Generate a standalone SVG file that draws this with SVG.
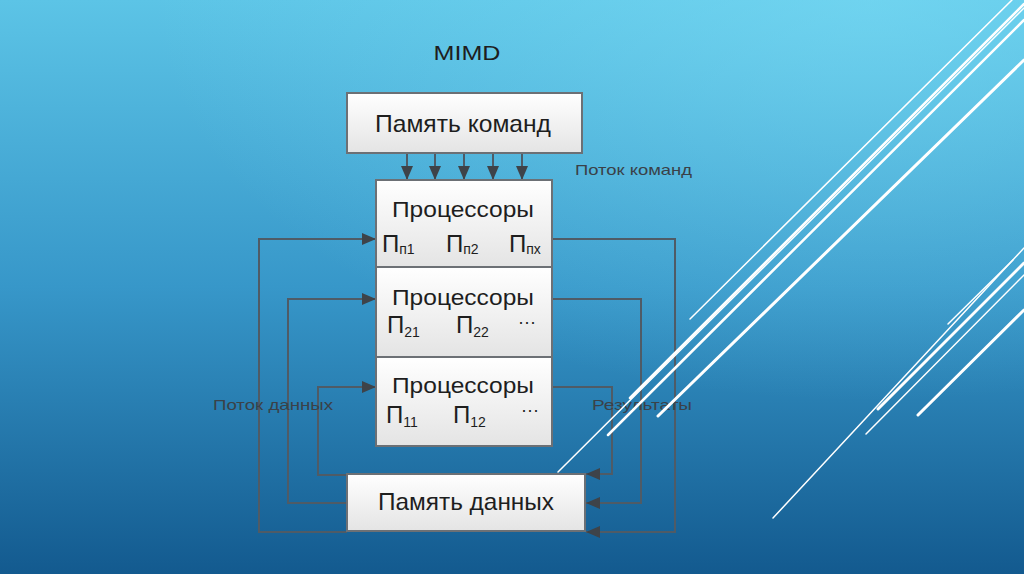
<svg xmlns="http://www.w3.org/2000/svg" width="1024" height="574" viewBox="0 0 1024 574">
  <defs>
    <linearGradient id="bg" x1="0" y1="0" x2="0" y2="1">
      <stop offset="0" stop-color="#5cc4e6"/>
      <stop offset="0.5" stop-color="#3797c9"/>
      <stop offset="1" stop-color="#135a8f"/>
    </linearGradient>
    <radialGradient id="glow" cx="0.85" cy="0" r="0.7">
      <stop offset="0" stop-color="#7fe0f7" stop-opacity="0.55"/>
      <stop offset="1" stop-color="#7fe0f7" stop-opacity="0"/>
    </radialGradient>
    <linearGradient id="boxfill" x1="0" y1="0" x2="0" y2="1">
      <stop offset="0" stop-color="#ffffff"/>
      <stop offset="1" stop-color="#e4e4e4"/>
    </linearGradient>
    <marker id="ah" viewBox="0 0 14 12" refX="14" refY="6" markerWidth="14" markerHeight="12" markerUnits="userSpaceOnUse" orient="auto">
      <path d="M0,0 L14,6 L0,12 Z" fill="#3e4349"/>
    </marker>
    <style>
      .box { fill: url(#boxfill); stroke: #6c7075; stroke-width: 2; }
      .conn { fill: none; stroke: #4f5b66; stroke-width: 2; }
      .t { font-family: "Liberation Sans", Arial, sans-serif; fill: #1e1e1e; }
      .lbl { font-family: "Liberation Sans", Arial, sans-serif; fill: #3a4148; font-size: 15px; }
      .deco { stroke: #ffffff; fill: none; stroke-linecap: round; }
    </style>
  </defs>

  <rect x="0" y="0" width="1024" height="574" fill="url(#bg)"/>
  <rect x="0" y="0" width="1024" height="574" fill="url(#glow)"/>

  <text x="467" y="60" class="t" font-size="21" fill="#2a3036" text-anchor="middle" textLength="67" lengthAdjust="spacingAndGlyphs">MIMD</text>

  <g id="connectors">
    <line class="conn" x1="407" y1="153" x2="407" y2="180" marker-end="url(#ah)"/>
    <line class="conn" x1="435" y1="153" x2="435" y2="180" marker-end="url(#ah)"/>
    <line class="conn" x1="464" y1="153" x2="464" y2="180" marker-end="url(#ah)"/>
    <line class="conn" x1="493" y1="153" x2="493" y2="180" marker-end="url(#ah)"/>
    <line class="conn" x1="522" y1="153" x2="522" y2="180" marker-end="url(#ah)"/>
    <polyline class="conn" points="347,532 259,532 259,239 376,239" marker-end="url(#ah)"/>
    <polyline class="conn" points="347,503 288,503 288,299 376,299" marker-end="url(#ah)"/>
    <polyline class="conn" points="347,475 318,475 318,387 376,387" marker-end="url(#ah)"/>
    <polyline class="conn" points="552,239 675,239 675,532 586,532" marker-end="url(#ah)"/>
    <polyline class="conn" points="552,299 641,299 641,503 586,503" marker-end="url(#ah)"/>
    <polyline class="conn" points="552,387 612,387 612,474 586,474" marker-end="url(#ah)"/>
  </g>

  <g id="cmd-memory">
    <rect class="box" x="347" y="93" width="235" height="60"/>
    <text x="463" y="132" class="t" font-size="24" text-anchor="middle" textLength="176" lengthAdjust="spacingAndGlyphs">Память команд</text>
  </g>

  <g id="proc-n">
    <rect class="box" x="376" y="180" width="176" height="87"/>
    <text x="463" y="217" class="t" font-size="22" text-anchor="middle" textLength="142" lengthAdjust="spacingAndGlyphs">Процессоры</text>
    <text x="382" y="252" class="t" font-size="24">П<tspan font-size="14" dy="2">п1</tspan></text>
    <text x="446" y="252" class="t" font-size="24">П<tspan font-size="14" dy="2">п2</tspan></text>
    <text x="509" y="252" class="t" font-size="24">П<tspan font-size="14" dy="2">пх</tspan></text>
  </g>

  <g id="proc-2">
    <rect class="box" x="376" y="267" width="176" height="90"/>
    <text x="463" y="305" class="t" font-size="22" text-anchor="middle" textLength="142" lengthAdjust="spacingAndGlyphs">Процессоры</text>
    <text x="387" y="333" class="t" font-size="24">П<tspan font-size="14" dy="4">21</tspan></text>
    <text x="456" y="333" class="t" font-size="24">П<tspan font-size="14" dy="4">22</tspan></text>
    <text x="527" y="328" class="t" font-size="18" text-anchor="middle">···</text>
  </g>

  <g id="proc-1">
    <rect class="box" x="376" y="357" width="176" height="89"/>
    <text x="463" y="393" class="t" font-size="22" text-anchor="middle" textLength="142" lengthAdjust="spacingAndGlyphs">Процессоры</text>
    <text x="386" y="423" class="t" font-size="24">П<tspan font-size="14" dy="4">11</tspan></text>
    <text x="453" y="423" class="t" font-size="24">П<tspan font-size="14" dy="4">12</tspan></text>
    <text x="530" y="416" class="t" font-size="18" text-anchor="middle">···</text>
  </g>

  <g id="data-memory">
    <rect class="box" x="347" y="474" width="238" height="57"/>
    <text x="466" y="510" class="t" font-size="24" text-anchor="middle" textLength="176" lengthAdjust="spacingAndGlyphs">Память данных</text>
  </g>

  <g id="labels">
    <text x="575" y="175" class="lbl" textLength="117" lengthAdjust="spacingAndGlyphs">Поток команд</text>
    <text x="213" y="410" class="lbl" textLength="120" lengthAdjust="spacingAndGlyphs">Поток данных</text>
    <text x="592" y="410" class="lbl" textLength="100" lengthAdjust="spacingAndGlyphs">Результаты</text>
  </g>

  <g id="decoration">
    <line class="deco" stroke-width="1.5" x1="690" y1="319" x2="1012" y2="0"/>
    <line class="deco" stroke-width="1.5" x1="558" y1="472" x2="1024" y2="8"/>
    <line class="deco" stroke-width="2.5" x1="608" y1="435" x2="1024" y2="20"/>
    <line class="deco" stroke-width="2.5" x1="630" y1="398" x2="1024" y2="4"/>
    <line class="deco" stroke-width="3" x1="658" y1="416" x2="1024" y2="60"/>
    <line class="deco" stroke-width="1.5" x1="773" y1="518" x2="1024" y2="248"/>
    <line class="deco" stroke-width="1.5" x1="948" y1="324" x2="1013" y2="260"/>
    <line class="deco" stroke-width="3" x1="878" y1="409" x2="1024" y2="263"/>
    <line class="deco" stroke-width="1.5" x1="866" y1="434" x2="1024" y2="275"/>
    <line class="deco" stroke-width="3" x1="918" y1="415" x2="1024" y2="310"/>
  </g>
</svg>
